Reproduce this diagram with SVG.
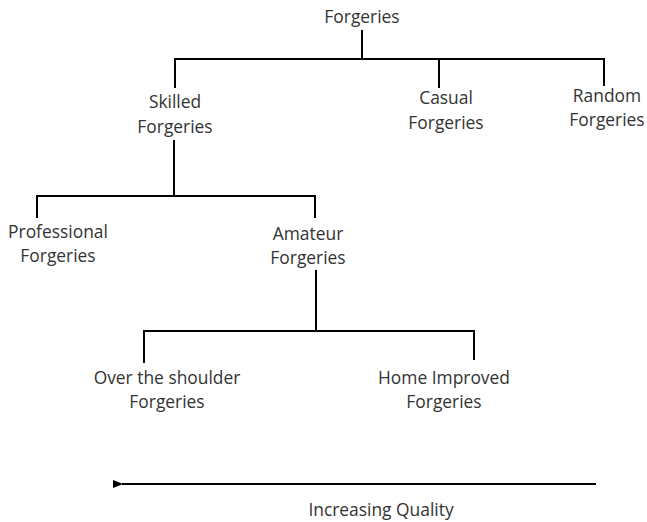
<svg xmlns="http://www.w3.org/2000/svg" width="647" height="522" viewBox="0 0 647 522">
<style>
text{font-family:"Open Sans","Noto Sans","Liberation Sans",sans-serif;font-size:17.4px;fill:#333;text-anchor:middle}
.c{stroke:#000;stroke-width:2;fill:none}
</style>
<defs><marker id="ah" markerWidth="10" markerHeight="8" refX="1" refY="4" orient="auto-start-reverse" markerUnits="userSpaceOnUse"><path d="M0,4 L10,0 L10,8 Z" fill="#000"/></marker></defs>
<rect width="647" height="522" fill="#fff"/>
<g id="connectors">
<path class="c" d="M362,30 V59 M175,88 V59 H604 V86 M439,59 V88"/>
<path class="c" d="M174,140 V196 M37,218 V196 H315 V218"/>
<path class="c" d="M316,270 V331 M144,363 V331 H475 M474,331 V360"/>
<line class="c" x1="596" y1="484" x2="122" y2="484" marker-end="url(#ah)"/>
</g>
<g id="forgeries"><text x="362" y="23">Forgeries</text></g>
<g id="skilled"><text x="175" y="108">Skilled</text><text x="175" y="133">Forgeries</text></g>
<g id="casual"><text x="446" y="104">Casual</text><text x="446" y="129">Forgeries</text></g>
<g id="random"><text x="607" y="102">Random</text><text x="607" y="126">Forgeries</text></g>
<g id="professional"><text x="58" y="238">Professional</text><text x="58" y="262">Forgeries</text></g>
<g id="amateur"><text x="308" y="240">Amateur</text><text x="308" y="264">Forgeries</text></g>
<g id="over"><text x="167" y="384">Over the shoulder</text><text x="167" y="408">Forgeries</text></g>
<g id="home"><text x="444" y="384">Home Improved</text><text x="444" y="408">Forgeries</text></g>
<g id="quality"><text x="381" y="516">Increasing Quality</text></g>
</svg>
